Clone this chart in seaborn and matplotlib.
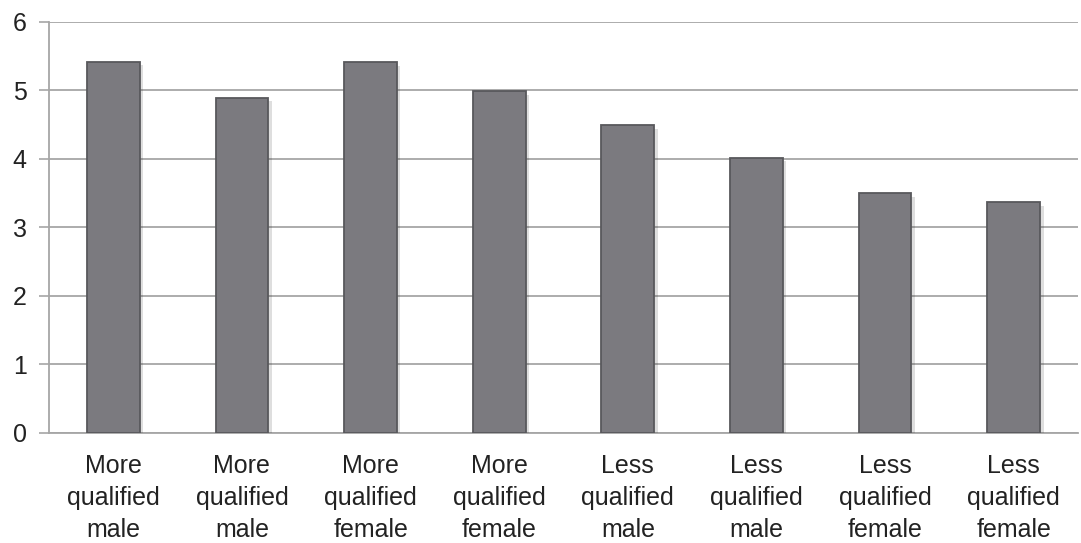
import pandas as pd
import matplotlib.pyplot as plt
import matplotlib.patheffects as pe
import seaborn as sns

# data
labels = ["More\nqualified\nmale", "More\nqualified\nmale",
          "More\nqualified\nfemale", "More\nqualified\nfemale",
          "Less\nqualified\nmale", "Less\nqualified\nmale",
          "Less\nqualified\nfemale", "Less\nqualified\nfemale"]
values = [5.42, 4.89, 5.41, 4.99, 4.49, 4.02, 3.50, 3.37]
yticks = [0, 1, 2, 3, 4, 5, 6]

df = pd.DataFrame({"pos": [str(i) for i in range(len(values))], "value": values})

sns.set_style("white")
plt.rcParams["font.family"] = ["Liberation Sans", "DejaVu Sans"]

fig = plt.figure(figsize=(10.81, 5.43), dpi=100)
ax = fig.add_axes([0.0453, 0.2026, 0.952, 0.757])

sns.barplot(data=df, x="pos", y="value", color="#7b7a7f", width=0.41,
            saturation=1, edgecolor="#58585c", linewidth=1.3, ax=ax, zorder=3)

# soft drop shadow like the office chart
for bar in ax.patches:
    bar.set_path_effects([pe.SimplePatchShadow(offset=(2.5, -2.5), alpha=0.15),
                          pe.Normal()])

ax.set_xlim(-0.5, len(values) - 0.5)
ax.set_ylim(0, 6)
ax.set_yticks(yticks)
ax.set_xticks(range(len(values)))
ax.set_xticklabels(labels, fontsize=18, color="#222222", linespacing=1.42)
ax.tick_params(axis="x", length=0, pad=15)
ax.set_xticks([i - 0.5 for i in range(len(values) + 1)], minor=True)
ax.tick_params(axis="x", which="minor", length=7, width=1.2, color="#a6a6a6", direction="out")
ax.tick_params(axis="y", labelsize=18, labelcolor="#222222", length=7, width=1.2,
               color="#a6a6a6", left=True, pad=9)

ax.grid(axis="y", color="#a6a6a6", linewidth=1.3, zorder=0)
ax.set_axisbelow(True)
for s in ["top", "right"]:
    ax.spines[s].set_visible(False)
for s in ["left", "bottom"]:
    ax.spines[s].set_color("#a6a6a6")
    ax.spines[s].set_linewidth(1.3)

ax.set_xlabel("")
ax.set_ylabel("")

fig.savefig("out.png", dpi=100, facecolor="white")
